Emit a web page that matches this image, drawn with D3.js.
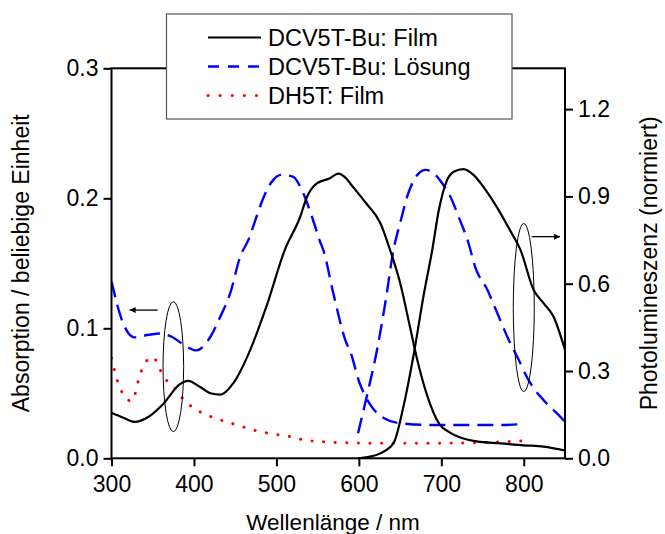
<!DOCTYPE html>
<html>
<head>
<meta charset="utf-8">
<script src="https://cdn.jsdelivr.net/npm/d3@7"></script>
<style>
  body { margin: 0; background: #fff; }
  svg { display: block; font-family: "Liberation Sans", Arial, sans-serif; }
</style>
</head>
<body>
<svg id="svg" width="665" height="534"></svg>
<script>
// Absorption (linke Achse)
const filmAbsNm = [300,315,328,345,363,383,393,407,420,432,448,468,488,510,529,537,549,565,575,585,590,609,626,638,650,662,670,682,698,710,743,772,800,824,850];
const filmAbs   = [0.035,0.031,0.028,0.032,0.042,0.057,0.0595,0.055,0.050,0.049,0.058,0.083,0.117,0.160,0.186,0.201,0.2115,0.2154,0.219,0.215,0.211,0.196,0.181,0.160,0.135,0.101,0.078,0.050,0.026,0.020,0.013,0.0115,0.010,0.009,0.006];

const solAbsNm = [300,314,328,345,359,373,385,403,420,432,444,456,466,476,484,496,506,520,531,543,553,557,569,585,589,601,613,630,650,690,731,772,800];
const solAbs   = [0.136,0.104,0.093,0.095,0.096,0.0935,0.0885,0.083,0.0935,0.109,0.127,0.155,0.168,0.186,0.200,0.214,0.218,0.2166,0.206,0.186,0.1666,0.160,0.127,0.0885,0.083,0.0577,0.042,0.031,0.027,0.0256,0.0256,0.0256,0.0264];

const dh5tNm = [300,308,314,324,330,333,339,347,352,357,365,377,388,400,413,432,448,463,477,491,507,521,535,549,564,578,650,720,770,800];
const dh5t   = [0.077,0.058,0.0495,0.044,0.0525,0.0615,0.0705,0.0777,0.077,0.0705,0.0615,0.0538,0.0448,0.0385,0.034,0.0295,0.0264,0.0235,0.021,0.0192,0.0177,0.0162,0.0138,0.0131,0.0125,0.012,0.0115,0.0118,0.0125,0.0135];

// Photolumineszenz (rechte Achse)
const filmPLNm = [599,612,626,642,654,666,679,689,697,707,715,727,739,751,767,783,796,812,824,836,850];
const filmPL   = [0,0.005,0.017,0.052,0.177,0.349,0.567,0.716,0.853,0.956,0.985,0.994,0.974,0.933,0.865,0.785,0.716,0.578,0.533,0.487,0.372];

const solPLNm = [599,609.5,622,632,642,650,660,671,681,691,701,711,721,733,741,756,768,780,792,808,824,840,850];
const solPL   = [0.086,0.212,0.372,0.533,0.716,0.808,0.911,0.974,0.991,0.979,0.945,0.899,0.830,0.739,0.658,0.578,0.498,0.418,0.349,0.258,0.200,0.155,0.126];

const xTicks = [300,400,500,600,700,800];
const yLeftTicks = [0,0.1,0.2,0.3];
const yRightTicks = [0,0.3,0.6,0.9,1.2];

const legendLabels = ["DCV5T-Bu: Film", "DCV5T-Bu: Lösung", "DH5T: Film"];

const svg = d3.select("#svg");
const L = 111.5, R = 565, T = 68.3, B = 458.3;

const x = d3.scaleLinear().domain([300, 850]).range([L, R]);
const yL = d3.scaleLinear().domain([0, 0.3]).range([B, T]);
const yR = d3.scaleLinear().domain([0, 1.2]).range([B, 109.1]);

const FS = 23;

svg.append("clipPath").attr("id", "clip")
  .append("rect").attr("x", L).attr("y", T).attr("width", R - L).attr("height", B - T);

const plot = svg.append("g").attr("clip-path", "url(#clip)");

const styles = {
  film: { stroke: "#000", width: 2.2, dash: null, cap: "butt" },
  sol:  { stroke: "#0000ff", width: 2.4, dash: "16,8", cap: "butt" },
  dh5t: { stroke: "#ff0000", width: 3, dash: "0.1,11.5", cap: "round" }
};

function drawLine(nm, vals, yScale, st) {
  const pts = nm.map((d, i) => [x(d), yScale(vals[i])]);
  plot.append("path")
    .attr("d", d3.line().curve(d3.curveMonotoneX)(pts))
    .attr("fill", "none")
    .attr("stroke", st.stroke)
    .attr("stroke-width", st.width)
    .attr("stroke-dasharray", st.dash)
    .attr("stroke-linecap", st.cap)
    .attr("stroke-linejoin", "round");
}

drawLine(dh5tNm, dh5t, yL, styles.dh5t);
drawLine(solAbsNm, solAbs, yL, styles.sol);
drawLine(solPLNm, solPL, yR, styles.sol);
drawLine(filmAbsNm, filmAbs, yL, styles.film);
drawLine(filmPLNm, filmPL, yR, styles.film);

// Ellipsen + Pfeile
svg.append("defs").append("marker")
  .attr("id", "arr").attr("viewBox", "0 0 10 10")
  .attr("refX", 10).attr("refY", 5)
  .attr("markerWidth", 9).attr("markerHeight", 6)
  .attr("markerUnits", "userSpaceOnUse")
  .attr("orient", "auto")
  .append("path").attr("d", "M0,0 L10,5 L0,10 z").attr("fill", "#000");

svg.append("ellipse")
  .attr("cx", x(375)).attr("cy", yL(0.0705))
  .attr("rx", 10.3).attr("ry", 65)
  .attr("fill", "none").attr("stroke", "#000").attr("stroke-width", 1);
svg.append("line")
  .attr("x1", x(356)).attr("y1", yL(0.114))
  .attr("x2", x(322)).attr("y2", yL(0.114))
  .attr("stroke", "#000").attr("stroke-width", 1.3)
  .attr("marker-end", "url(#arr)");

svg.append("ellipse")
  .attr("cx", x(800)).attr("cy", yL(0.116))
  .attr("rx", 10.5).attr("ry", 84)
  .attr("fill", "none").attr("stroke", "#000").attr("stroke-width", 1);
svg.append("line")
  .attr("x1", x(809.6)).attr("y1", yL(0.1705))
  .attr("x2", x(844)).attr("y2", yL(0.1705))
  .attr("stroke", "#000").attr("stroke-width", 1.3)
  .attr("marker-end", "url(#arr)");

// Achsen
const axB = svg.append("g").attr("transform", `translate(0,${B})`)
  .call(d3.axisBottom(x).tickValues(xTicks).tickSize(8).tickPadding(6).tickFormat(d3.format("d")));
const axLft = svg.append("g").attr("transform", `translate(${L},0)`)
  .call(d3.axisLeft(yL).tickValues(yLeftTicks).tickSize(8).tickPadding(5).tickFormat(d3.format(".1f")));
const axRgt = svg.append("g").attr("transform", `translate(${R},0)`)
  .call(d3.axisRight(yR).tickValues(yRightTicks).tickSize(8).tickPadding(5).tickFormat(d3.format(".1f")));
[axB, axLft, axRgt].forEach(a => {
  a.select(".domain").remove();
  a.selectAll(".tick line").attr("stroke", "#000").attr("stroke-width", 2);
  a.selectAll("text").attr("fill", "#000").style("font-size", FS + "px")
    .style("font-family", "'Liberation Sans', Arial, sans-serif");
});
axB.selectAll("text").attr("dy", "0.85em");

// Rahmen
svg.append("rect").attr("x", L).attr("y", T).attr("width", R - L).attr("height", B - T)
  .attr("fill", "none").attr("stroke", "#000").attr("stroke-width", 2);

// Achsentitel
svg.append("text").attr("x", 333).attr("y", 530)
  .attr("text-anchor", "middle").style("font-size", "22.5px").text("Wellenlänge / nm");
svg.append("text").attr("transform", `translate(29,${(T + B) / 2}) rotate(-90)`)
  .attr("text-anchor", "middle").style("font-size", "23px").text("Absorption / beliebige Einheit");
svg.append("text").attr("transform", `translate(657,${(T + B) / 2}) rotate(-90)`)
  .attr("text-anchor", "middle").style("font-size", "23px").text("Photolumineszenz (normiert)");

// Legende
const leg = svg.append("g");
leg.append("rect").attr("x", 166.5).attr("y", 14).attr("width", 345.5).attr("height", 105)
  .attr("fill", "#fff").attr("stroke", "#555").attr("stroke-width", 1.2);
const legStyles = [styles.film, styles.sol, styles.dh5t];
legendLabels.forEach((lab, i) => {
  const yy = 37.5 + i * 29;
  const st = legStyles[i];
  leg.append("line").attr("x1", 208).attr("x2", 261).attr("y1", yy).attr("y2", yy)
    .attr("stroke", st.stroke).attr("stroke-width", st.width)
    .attr("stroke-dasharray", st.dash ? (i === 1 ? "11,9" : "0.1,12") : null)
    .attr("stroke-linecap", st.cap);
  leg.append("text").attr("x", 268).attr("y", yy + 8.5)
    .style("font-size", "23.5px").text(lab);
});
</script>
</body>
</html>
